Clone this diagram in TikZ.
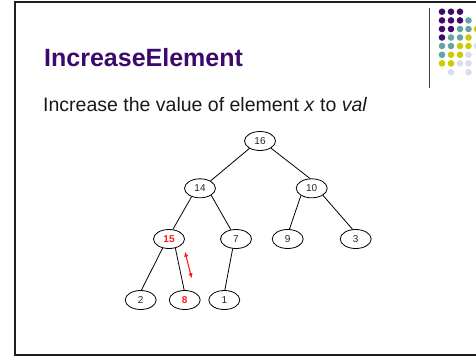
\documentclass[tikz,border=0pt]{standalone}
\usepackage{fontspec}
\setmainfont{Liberation Sans}
\usetikzlibrary{shapes.geometric,arrows.meta}
\definecolor{ttl}{HTML}{3B0A6B}
\definecolor{dpur}{HTML}{3F0A6A}
\definecolor{dteal}{HTML}{66A3A3}
\definecolor{dyel}{HTML}{CCCC00}
\definecolor{dlav}{HTML}{DCDCF0}
\definecolor{frm}{HTML}{1E1E1E}
\definecolor{hot}{HTML}{FF1A1A}
\begin{document}
\begin{tikzpicture}[x=1pt,y=-1pt,
  tnode/.style={ellipse,draw,line width=0.8pt,minimum width=31pt,minimum height=19pt,inner sep=0pt,font=\fontsize{10}{12}\selectfont,text=black!85},
  hotnode/.style={tnode,text=hot,font=\fontsize{10}{12}\selectfont\bfseries},
  edge/.style={draw,line width=0.8pt},
  swap/.style={draw=hot,line width=1.1pt,{Latex[length=5pt,width=4.5pt]}-{Latex[length=5pt,width=4.5pt]}}]
\useasboundingbox (0,0) rectangle (476,357);
\begin{scope}
\clip (0,0) rectangle (476,357);
\draw[line width=2pt,frm] (15,2) rectangle (495,355);
% decoration
\draw[line width=1pt,black!75] (429,8) -- (429,88);
\foreach \x/\y/\c in {
  442/11.7/dpur,451/11.7/dpur,460/11.7/dpur,
  442/20.4/dpur,451/20.4/dpur,460/20.4/dpur,468.5/20.4/dteal,
  442/29/dpur,451/29/dpur,460/29/dteal,468.5/29/dteal,477/29/dyel,
  442/37.5/dpur,451/37.5/dteal,460/37.5/dteal,468.5/37.5/dyel,
  442/46/dteal,451/46/dteal,460/46/dyel,468.5/46/dyel,477/46/dlav,
  442/54.8/dteal,451/54.8/dyel,460/54.8/dyel,468.5/54.8/dlav,
  442/63.4/dyel,451/63.4/dyel,460/63.4/dlav,468.5/63.4/dlav,
  451/72.2/dlav,468.5/72.2/dlav}
  \fill[\c] (\x,\y) circle (3.3);
\end{scope}
\node[anchor=base west,inner sep=0pt,text=ttl,font=\fontsize{25}{30}\selectfont\bfseries] (title) at (44,66) {IncreaseElement};
\node[anchor=base west,inner sep=0pt,text=black!90,font=\fontsize{19.5}{23}\selectfont] (body) at (43,111.5) {Increase the value of element \textit{x} to \textit{val}};
% tree
\node[tnode] (n16) at (260,141) {16};
\node[tnode] (n14) at (200,188.3) {14};
\node[tnode] (n10) at (311.7,188.3) {10};
\node[hotnode] (n15) at (169,239) {15};
\node[tnode] (n7) at (236,239) {7};
\node[tnode] (n9) at (287.7,239) {9};
\node[tnode] (n3) at (355.7,239) {3};
\node[tnode] (n2) at (140.7,300) {2};
\node[hotnode] (n8) at (184.7,300) {8};
\node[tnode] (n1) at (224.3,300) {1};
\draw[edge] (n16.215) -- (n14.35);
\draw[edge] (n16.-33) -- (n10.100);
\draw[edge] (n14.225) -- (n15.68);
\draw[edge] (n14.-32) -- (n7.119);
\draw[edge] (n10.214) -- (n9.80);
\draw[edge] (n10.-32) -- (n3.108);
\draw[edge] (n15.235) -- (n2.86);
\draw[edge] (n15.-55) -- (n8.93);
\draw[edge] (n7.251) -- (n1.87);
\coordinate (sa) at (185,251.7);
\coordinate (sb) at (191.7,278.3);
\draw[swap] (sa) -- (sb);
\end{tikzpicture}
\end{document}
